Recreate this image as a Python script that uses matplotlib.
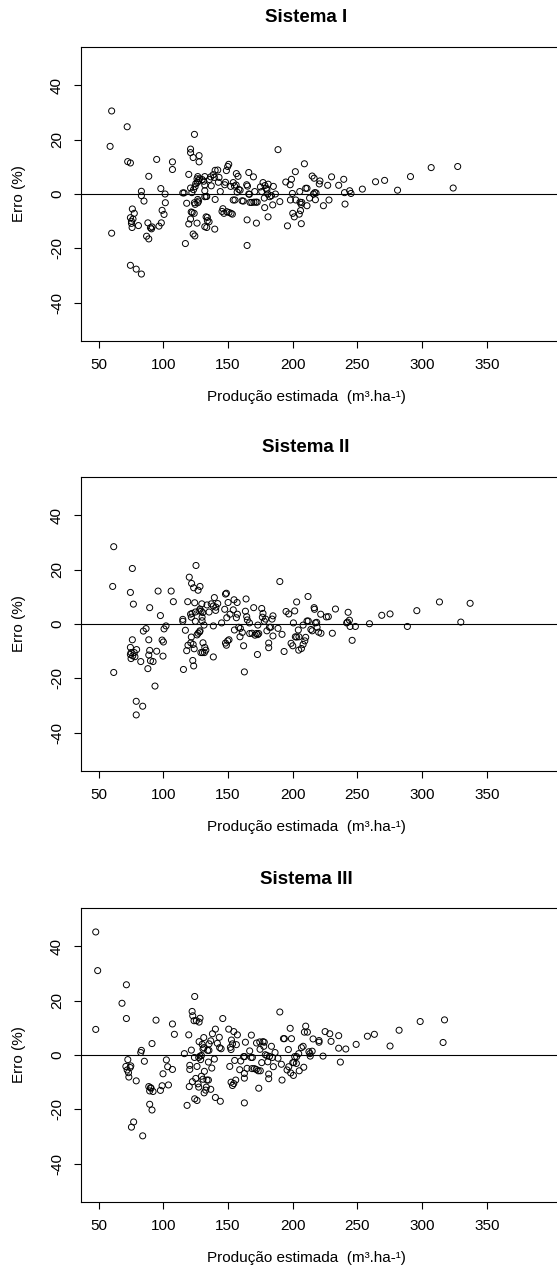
import matplotlib.pyplot as plt

plt.rcParams['font.family'] = ['Liberation Sans', 'DejaVu Sans']
plt.rcParams['axes.unicode_minus'] = False

# --- data: produção estimada (m3/ha) vs erro (%) for each system ---
x1 = [60, 72, 58.8, 60, 72.4, 74.5, 74.5, 79, 83,
      76, 77.5, 74.5, 75.3, 75.8, 76.5, 75.3, 80.7, 83, 83, 85,
      88.7, 88, 87, 88.7, 90, 90.8, 91.3, 96.6, 98.4, 98, 94.8,
      99, 100.5, 101.3, 101.5, 107, 107, 115, 116, 118, 117, 119.6, 119.6,
      121, 121, 123, 124, 127.6, 127.6, 121, 122, 123.3, 124.5, 125,
      121, 121.5, 122.3, 123.8, 123, 124.3, 124, 124.5, 126,
      126, 126.6, 126.2, 127.2, 128, 126.6, 127.2, 126.6,
      130, 131.2, 132, 132, 132, 132, 133, 133.5,
      132, 133.5, 134, 135.3, 134, 133,
      135.5, 136.6, 137, 138.5, 139.4, 140, 142, 140, 139.7,
      143, 142.5, 144, 146, 145.3, 146.8, 147.4, 148, 148.7, 149.7, 150.5,
      149, 150.7, 152.3, 153.3, 152, 154, 155, 154, 155.3,
      156.4, 157.7, 156.2, 157, 158.3, 159.3, 160.8, 161.8,
      164.4, 165, 164.7, 164.7, 166, 166.5, 166, 167, 168.3,
      169.6, 170, 171.5, 172.5, 170.6, 171.9,
      175, 176, 177, 178.5, 179.5, 181, 180,
      178, 178.3, 180.7, 182.2, 180.9, 183.5, 184.5, 185, 186.6, 188.6, 190,
      194.6, 195.9, 198, 199, 198.2, 199.7, 200, 201.2, 202, 202.3,
      205.4, 205.6, 206.5, 207, 205, 206, 206.6,
      209, 210, 211, 211, 213, 215, 216.5, 216, 217, 218, 217.5,
      221, 220.5, 223.7, 227, 228, 230, 235.5, 239.4, 240, 240.4, 244, 245,
      253.8, 264, 271, 281, 291, 307, 324, 327.5]
y1 = [30.5, 24.7, 17.5, -14.4, 11.9, 11.4, -26.2, -27.6, -29.4,
      -5.5, -7.1, -8.7, -10.8, -12.3, -9.2, -10, -11.6, 1, -0.6, -2.6,
      6.5, -10.6, -15.5, -16.5, -12.4, -12.8, -12.1, -11.8, -10.6, 2, 12.7,
      -6, -7.5, 0, -3.2, 11.8, 9, 0.4, 0.4, -3.4, -18.2, 7.2, -11,
      16.5, 15.2, 13.4, 21.9, 14.1, 11.8, 2.2, 0.5, 1.6, 2.7, 3.8,
      -9.2, -6.6, -6.8, -7.1, -14.7, -15.4, -3.2, -3.8, -10.7,
      5.6, 6.4, 4.2, 4.9, 5.6, -2, -2.6, -3.2,
      5.3, 4.7, 3.3, 6.4, 1.2, -1, -0.9, -0.9,
      -12, -12.3, -9.8, -10.2, -8.6, -8.4,
      5.3, 6.3, 3, 7.1, 6.1, 8.7, 8.8, -2, -12.9,
      6.1, 4.3, 0.9, -5.4, -6.4, -7.1, 3.4, 4.3, 8.6, 10.1, 10.9,
      -6.5, -6.8, -7.1, -7.4, 2.8, 4.2, 2.9, -2.2, -2.2,
      7.5, 6.5, 3.3, 0.7, 1.7, 1.4, -2.5, -2.6,
      3.4, 2.9, -9.5, -18.9, 0, -0.1, 7.9, -3.1, -3.1,
      6.3, -3, -3, -3, 0.9, -10.7,
      2.6, 0.9, 4.2, 3.1, 2.1, 3.6, 1.5,
      -1.5, -5, 0, -1, -8.4, -0.6, -4, 2.8, 0, 16.3, -2.8,
      4.4, -11.7, 3.4, 5.4, -2.2, 0.2, -7.1, -8.4, 8.2, -2.2,
      0.9, -3, -3.8, -3.1, -7.4, -6.1, -10.9,
      11.1, 2.1, 2.1, -4.3, -1.5, 6.6, 5.8, 0, 0.5, 0.4, -2.1,
      4.8, 3.7, -4.3, 3.2, -2.2, 6.3, 3.2, 5.4, 0.5, -3.7, 1.2, 0.2,
      1.8, 4.5, 5, 1.4, 6.4, 9.7, 2.2, 10.1]

x2 = [61.6, 60.8, 61.6, 76, 74.5, 76.8, 76,
      74.5, 75, 74.5, 76.3, 75, 77.5, 78, 79.3,
      79, 79, 84, 82.5, 84.5, 86.6,
      89.4, 88.7, 88.7, 88, 89.4, 90, 92, 93.5, 94.8, 95.9, 97.7,
      99, 100, 99.7, 100.5, 102, 106, 107.7,
      115, 115, 115.5, 117, 118, 118.8, 120, 119,
      121, 121.6, 122.2, 121.6, 121.2, 121.8, 122.7, 123.4, 123.4,
      123, 123.8, 124.7, 124.7, 124.2, 125.2, 126, 126.8, 128, 128.3,
      126.8, 127.6, 128.3, 129.2, 128.3, 129, 130.2,
      129.7, 130.4, 129.9, 129.9, 130.6, 131.4, 132, 132.8, 131.7,
      133.7, 135.3, 137, 138.6, 138.6, 138.6, 139.4, 140.4, 140.6, 142,
      145, 147.4, 148, 148.7, 148, 148.7, 149.7, 150.7, 149, 150, 151.5,
      154, 154.6, 154.9, 156.4, 157.2, 157, 158.2, 159.5, 159.2, 161, 162,
      162.6, 163.9, 163.4, 164.4, 164.9, 166.5,
      166.7, 168.5, 170.8, 171.9, 172.9, 173.7, 169.8, 172.7, 173,
      176, 177, 176.5, 178, 179, 180, 181.4, 181.4, 182, 183,
      184, 184.7, 184.7, 188.6, 191.7, 190, 193.3, 194.8, 196.9,
      198.7, 200, 200.5, 201.5, 203, 202, 203, 204.3, 204.8, 204.6,
      206.7, 208, 209.3, 210, 208, 211.8, 211, 212,
      214, 215, 216.5, 216.8, 217.5, 218.5, 218.8, 220, 221.8, 221.6,
      226, 227.5, 230.6, 233, 241.7, 242.3, 242.8, 243.8, 244.3, 245.9, 248.4,
      259.3, 268.8, 275.2, 288.6, 295.9, 313.4, 329.9, 337.1]
y2 = [28.4, 13.8, -17.8, 20.4, 11.6, 7.3, -5.8,
      -8.6, -10.5, -11.2, -11.7, -12.7, -10.5, -12, -9.4,
      -28.4, -33.4, -30.2, -13.8, -2.6, -1.7,
      6, -5.8, -11.4, -16.4, -9.7, -13.5, -13.8, -22.8, -10, 12.1, 3.1,
      -5.9, -6.6, -11.8, -1.8, -0.7, 12.1, 8.2,
      1.7, 1, -16.7, -2.3, -9.8, 8.2, 17.2, -7.8,
      3.6, 2.5, 3.9, -4.8, -6.9, 14.9, -13.4, 13.3, -15.4,
      -7.5, -9.1, 1, 4.4, 7.8, 21.5, -4, -3.4, -2.9, -2.5,
      12.4, 4.8, 5.5, 4.7, 13.8, -10.5, -10.5,
      7.4, 4.2, 2.5, 1.2, -6.9, -0.4, -8.6, -9.6, -10.5,
      7, 4.4, 7.4, 6.6, -0.7, -12.1, 9.7, 5, 6.2, 7.5,
      0.4, 5.4, 11, 11.3, -7, -7.8, -6.2, -5.8, 2.3, 7.9, 3.6,
      5.2, 8.9, -2.2, 2.3, 3.6, 7.9, -1.2, -1.6, -4.7, -3.1, -8,
      -17.6, 9.2, 4.7, 2.7, 1.5, 0.4,
      -3.5, -3.4, -4.1, -3.5, -3.9, -3.5, 6, -11.2, -0.4,
      5.7, 3.9, 2.5, 1, 1.8, -2.5, -7, -8.7, -1.2, -1.2,
      1.8, 3, -4.4, -1.6, -3.8, 15.6, -10.1, 4.6, 3.7,
      -7.1, -8, 0.4, 4.8, 8.1, -4.7, -4.8, -2.2, -4.7, -9.6,
      -9, -7.5, -6.2, -4.9, -0.4, 10.1, 1.1, 1.1,
      -2, -2.5, 6, 5.4, 0.4, 0.6, -1.2, -3, -3.4, 3.6,
      2.6, 2.7, -3.4, 5.5, 0.4, 0.7, 4.3, 1.4, -0.9, -6, -0.9,
      0.1, 3.2, 3.7, -0.9, 4.9, 8.1, 0.7, 7.6]

x3 = [47.7, 49.2, 47.7, 68, 71.4, 71.4,
      71, 72, 73, 72.5, 74.3, 74.8, 73.3,
      75.3, 77, 79, 82.5, 83, 84, 85.3,
      88.7, 89.4, 90.5, 92, 90, 89.4, 91.2, 91.2, 94.3,
      97.7, 99, 99.7, 102.3, 103.3, 103.9, 107, 107, 108.5,
      116.2, 118.3, 119.6, 120.4, 120.4, 120, 121.6, 122.2, 122.4, 122.7, 123.7,
      124, 124.2, 124.2, 126, 125, 125.5, 126, 126.8, 127.3,
      127.6, 127.6, 128.3, 127.3, 128.3, 128.8, 129.4, 129.4, 130.6,
      130, 130.6, 131.2, 131.2, 131.7, 131.5, 132.7, 133.2, 133.7, 134.8,
      134.2, 135.2, 134.8, 135.3, 136.6, 136.6, 137.4, 137.9, 139.4, 140.2, 140.2,
      141.7, 143.2, 143.5, 144.6, 144, 145.9,
      150.5, 151.3, 151.8, 152.3, 152.6, 153.4, 152.3, 153.4, 154.4, 155.9,
      154.4, 155.1, 156.4, 157.2, 159, 159.8, 162, 162.8, 163.4, 162.6, 162.6, 162.6,
      164.7, 166.7, 168, 167.8, 168.8, 168.5, 170.3, 171.8, 173.3, 174.9,
      172, 174.5, 173.7, 174.7, 176, 177, 178, 177.6,
      178.8, 180, 180.7, 181.4, 181.4, 182, 183.5, 184.3, 185, 186.3, 188.6,
      190, 191.2, 191.7, 192.8, 193.5, 195.6, 196.6, 196.9, 198, 199, 198.4,
      200, 200.8, 200.5, 201.5, 202.8, 203, 204.6, 205,
      206.7, 208, 209, 210, 211.3, 208.5,
      212.5, 213.3, 213.5, 215, 215.7, 220.3, 220.3, 223.4, 225, 228.6, 229.6,
      235.5, 235.5, 236.8, 241, 249, 257.7, 263.1, 275.2, 282.2, 298.5, 316.2, 317.3]
y3 = [45.2, 31, 9.4, 19, 25.8, 13.4,
      -4.2, -5.5, -6.5, -1.7, -4.6, -4, -8.1,
      -26.5, -24.6, -9.5, 0.9, 1.7, -29.7, -2.3,
      -11.6, -13.2, -12.2, -13.4, -12, -18.1, -20.2, 4.2, 12.8,
      -13, -11.3, -6.9, -1.8, -4.3, -11, 11.4, -5.3, 7.6,
      0.5, -18.5, 7.4, -3.8, -5.3, -11.6, 1.8, 16, -9.8, 14.4, 12.6,
      -0.9, 21.5, -16.1, -16.7, -8.6, 12.6, -4.2, -10.6, -11.8,
      4.9, 12.1, 13.5, -0.9, -0.4, -1.7, -0.2, -7.8, -8.9,
      3.9, 2.2, 2.7, 6.4, -6, -13.9, -12.9, -11.8, -9.2, -9.2,
      1.7, 1.7, -2.6, 4.1, 5.2, -12.6, -4.8, 7.8, -1.5, 9.5, -15.6,
      4.3, 6.5, 2.7, 2.3, -17, 13.4,
      9.5, -4.2, 2.8, 2, 5.5, 4.1, -10, -11.2, -10.5, -9.2,
      8.6, -2, 3.8, 7.4, -5.4, -2.2, -0.6, -0.6, 4.7, -6.8, -8.5, -17.6,
      -4.9, 1.5, 7.3, -0.9, -0.9, -5, -5, -5.3, -5.8, -5.8,
      4.4, 4.8, -12.2, 2.1, -2.8, 4.9, 4.7, 3.2,
      0.1, -0.2, -2.5, -7, -8.7, -0.5, 3.2, -0.9, -4.3, 0.9, -1.2,
      15.8, -3.4, -9.2, 6, 6, -5.5, 2, -4.3, 9.8, 6, -6.6,
      -2.8, -2.8, -7.5, -0.6, -3.1, -0.6, 0.5, -5.8,
      2.7, 3.2, 8.4, 10.6, 8.4, -4.5,
      1.2, 0.5, -0.4, 1.4, 5.9, 5.3, 4.7, -0.4, 8.6, 7.8, 5,
      7.1, 2.5, -2.6, 2.2, 3.9, 6.9, 7.6, 3.3, 9.1, 12.3, 4.6, 12.9]

titles = ['Sistema I', 'Sistema II', 'Sistema III']
panels = [(x1, y1), (x2, y2), (x3, y3)]
x_ticks = [50, 100, 150, 200, 250, 300, 350]
y_ticks = [-40, -20, 0, 20, 40]

W, H = 557, 1266
fig = plt.figure(figsize=(W / 100, H / 100), dpi=100)

# axes boxes in pixels (top edge of each panel); right side runs off the figure
left_px, width_px, height_px = 80.6, 489, 294
tops_px = [47, 477, 908]

for (xs, ys), title, top in zip(panels, titles, tops_px):
    ax = fig.add_axes([left_px / W, 1 - (top + height_px) / H, width_px / W, height_px / H])
    ax.scatter(xs, ys, s=19, facecolors='none', edgecolors='black', linewidths=0.7, zorder=3)
    ax.axhline(0, color='black', lw=0.8)
    ax.set_xlim(36, 414)
    ax.set_ylim(-54, 54)
    ax.set_xticks(x_ticks)
    ax.set_yticks(y_ticks)
    ax.set_yticklabels([str(v) for v in y_ticks], rotation=90, va='center')
    ax.tick_params(direction='out', length=5, width=0.8, labelsize=11, pad=7)
    for sp in ax.spines.values():
        sp.set_linewidth(0.8)
    ax.spines['right'].set_visible(False)
    ax.text(0.461, -0.19, 'Produção estimada  (m³.ha-¹)', transform=ax.transAxes,
            ha='center', va='center', fontsize=11)
    ax.text(-0.125, 0.5, 'Erro (%)', transform=ax.transAxes, rotation=90,
            ha='center', va='center', fontsize=11)
    # title centred over the plotting region
    fig.text(306 / W, 1 - (top - 29) / H, title, ha='center', va='center',
             fontsize=13.5, fontweight='bold')

fig.savefig('out.png', dpi=100)
